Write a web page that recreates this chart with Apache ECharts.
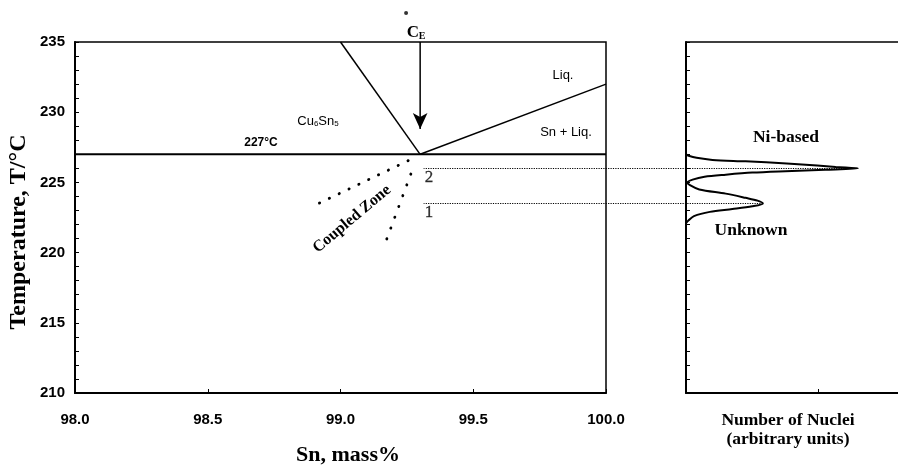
<!DOCTYPE html>
<html>
<head>
<meta charset="utf-8">
<script src="https://cdn.jsdelivr.net/npm/echarts@6/dist/echarts.min.js"></script>
<style>html,body{margin:0;padding:0;background:#fff}#c{width:898px;height:466px}</style>
</head>
<body>
<div id="c"></div>
<script>
// ---- data ----
const snMin = 98.0, snMax = 100.0;
const tMin = 210, tMax = 235;
const xTickLabels = [98.0, 98.5, 99.0, 99.5, 100.0];
const yTickLabels = [210, 215, 220, 225, 230, 235];
const eutecticLine = [[98.0, 227], [100.0, 227]];
const cuLiquidus = [[99.0, 235], [99.3, 227]];
const snLiquidus = [[99.3, 227], [100.0, 232]];
const arrowCE = [[99.3, 235], [99.3, 228.8]];
const ceDot = [[99.247, 237.07]];
const coupledA = [[99.255, 226.55], [98.89, 223.25]];
const coupledB = [[99.265, 225.6], [99.165, 220.5]];
const nucPoints = [[99.3, 226.0], [99.3, 223.5]];
const nucNames = ['2', '1'];
// connectors: [x1, y1, x2, y2] in Sn / T units, running to the nuclei peaks
const links = [[99.31, 226.0, 100.949, 226.0], [99.31, 223.5, 100.591, 223.5]];
const nucleiTemp  = [227.0, 226.9, 226.75, 226.6, 226.5, 226.35, 226.2, 226.1, 226.0, 225.9, 225.8, 225.7, 225.55, 225.4, 225.2, 225.0, 224.8, 224.5, 224.2, 223.9, 223.7, 223.5, 223.3, 223.1, 222.9, 222.6, 222.3, 222.1];
const nucleiCount = [0.0, 0.02, 0.08, 0.2, 0.45, 0.76, 0.99, 1.13, 1.298, 1.05, 0.75, 0.5, 0.3, 0.14, 0.05, 0.01, 0.03, 0.1, 0.3, 0.45, 0.54, 0.58, 0.5, 0.35, 0.18, 0.06, 0.02, 0.0];

// ---- chart ----
const chart = echarts.init(document.getElementById('c'), null, {renderer: 'canvas'});
const tickFont = {fontFamily: '"Liberation Sans", Arial, sans-serif', fontWeight: 'bold', fontSize: 15, color: '#000'};
const blackLine = {color: '#000', width: 1.5};
const nucleiData = nucleiTemp.map((t, i) => [nucleiCount[i], t]);

function seg(data, style, extra) {
  return Object.assign({type: 'line', xAxisIndex: 0, yAxisIndex: 0, data: data, symbol: 'none',
    lineStyle: style, silent: true, animation: false}, extra || {});
}

const option = {
  animation: false,
  grid: [
    {left: 75, top: 42, width: 531, height: 351, show: true, borderColor: '#000', borderWidth: 1.5, backgroundColor: 'transparent'},
    {left: 686, top: 42, width: 212, height: 351, show: false}
  ],
  xAxis: [
    {type: 'value', gridIndex: 0, min: snMin, max: snMax, interval: 0.5,
     axisLine: {lineStyle: {color: '#000', width: 2}},
     axisTick: {inside: true, length: 4, lineStyle: {color: '#000'}},
     axisLabel: Object.assign({margin: 19, formatter: v => xTickLabels.includes(v) ? v.toFixed(1) : ''}, tickFont),
     splitLine: {show: false}},
    {type: 'value', gridIndex: 1, min: 0, max: 1.6, interval: 1,
     axisLine: {lineStyle: {color: '#000', width: 2}},
     axisTick: {inside: true, length: 4, lineStyle: {color: '#000'}},
     axisLabel: {show: false}, splitLine: {show: false}},
    {type: 'value', gridIndex: 1, position: 'top', min: 0, max: 1.6, interval: 1,
     axisLine: {lineStyle: {color: '#000', width: 1.5}},
     axisTick: {show: false}, axisLabel: {show: false}, splitLine: {show: false}}
  ],
  yAxis: [
    {type: 'value', gridIndex: 0, min: tMin, max: tMax, interval: 5,
     axisLine: {lineStyle: {color: '#000', width: 2}},
     axisTick: {inside: true, length: 4, lineStyle: {color: '#000'}},
     minorTick: {show: true, splitNumber: 5, length: 4, lineStyle: {color: '#000'}},
     axisLabel: Object.assign({margin: 10, formatter: v => yTickLabels.includes(v) ? String(v) : ''}, tickFont),
     splitLine: {show: false}},
    {type: 'value', gridIndex: 1, min: tMin, max: tMax, interval: 5,
     axisLine: {lineStyle: {color: '#000', width: 2}},
     axisTick: {inside: true, length: 4, lineStyle: {color: '#000'}},
     minorTick: {show: true, splitNumber: 5, length: 4, lineStyle: {color: '#000'}},
     axisLabel: {show: false}, splitLine: {show: false}}
  ],
  series: [
    seg(eutecticLine, {color: '#000', width: 2}),
    seg(cuLiquidus, blackLine),
    seg(snLiquidus, blackLine),
    seg([arrowCE[0], {value: arrowCE[1], symbol: 'arrow', symbolSize: [11, 16], symbolRotate: 180, itemStyle: {color: '#000'}}],
        blackLine, {showSymbol: true, symbol: 'none'}),
    seg(coupledA, {color: '#000', width: 2.8, type: [0.3, 10.6], cap: 'round'}),
    seg(coupledB, {color: '#000', width: 2.8, type: [0.3, 11.2], cap: 'round'}),
    {type: 'custom', xAxisIndex: 0, yAxisIndex: 0, data: links, clip: false, silent: true, z: 1,
     encode: {x: [0, 2], y: [1, 3]},
     renderItem: function (params, api) {
       const p1 = api.coord([api.value(0), api.value(1)]);
       const p2 = api.coord([api.value(2), api.value(3)]);
       return {type: 'line', shape: {x1: p1[0] + 0.5, y1: Math.round(p1[1]) + 0.5, x2: p2[0], y2: Math.round(p2[1]) + 0.5},
               style: {stroke: '#000', lineWidth: 1, lineDash: [1.2, 1.2]}};
     }},
    {type: 'scatter', xAxisIndex: 0, yAxisIndex: 0, data: ceDot, symbol: 'circle', symbolSize: 4,
     itemStyle: {color: '#000'}, clip: false, silent: true},
    {type: 'scatter', xAxisIndex: 0, yAxisIndex: 0,
     data: nucPoints.map((p, i) => ({value: p, name: nucNames[i]})),
     symbol: 'emptyCircle', symbolSize: 5, itemStyle: {color: '#fff', borderColor: '#000', borderWidth: 1}, z: 5,
     label: {show: true, formatter: p => p.name, position: 'right', distance: 1, offset: [0, 9],
             fontFamily: '"Liberation Serif", "Times New Roman", serif', fontSize: 17, color: '#000',
             textBorderColor: '#000', textBorderWidth: 0.3},
     silent: true},
    {type: 'line', xAxisIndex: 1, yAxisIndex: 1, data: nucleiData, symbol: 'none', smooth: 0.3,
     lineStyle: {color: '#000', width: 2}, silent: true}
  ],
  graphic: [
    {type: 'text', x: 19, y: 232, rotation: Math.PI / 2, style: {text: 'Temperature, T/°C', font: 'bold 24px "Liberation Serif", serif', fill: '#000', align: 'center', verticalAlign: 'middle'}},
    {type: 'text', x: 348, y: 455, style: {text: 'Sn, mass%', font: 'bold 22px "Liberation Serif", serif', fill: '#000', align: 'center', verticalAlign: 'middle'}},
    {type: 'text', x: 788, y: 420, style: {text: 'Number of Nuclei', font: 'bold 17.5px "Liberation Serif", serif', fill: '#000', align: 'center', verticalAlign: 'middle'}},
    {type: 'text', x: 788, y: 439, style: {text: '(arbitrary units)', font: 'bold 17.5px "Liberation Serif", serif', fill: '#000', align: 'center', verticalAlign: 'middle'}},
    {type: 'text', x: 786, y: 137, style: {text: 'Ni-based', font: 'bold 17.5px "Liberation Serif", serif', fill: '#000', align: 'center', verticalAlign: 'middle'}},
    {type: 'text', x: 751, y: 230, style: {text: 'Unknown', font: 'bold 17.5px "Liberation Serif", serif', fill: '#000', align: 'center', verticalAlign: 'middle'}},
    {type: 'text', x: 352, y: 219, rotation: 0.70, style: {text: 'Coupled Zone', font: 'bold 16px "Liberation Serif", serif', fill: '#000', align: 'center', verticalAlign: 'middle'}},
    {type: 'text', x: 261, y: 143, style: {text: '227°C', font: 'bold 12px "Liberation Sans", sans-serif', fill: '#000', align: 'center', verticalAlign: 'middle'}},
    {type: 'text', x: 563, y: 75, style: {text: 'Liq.', font: '13px "Liberation Sans", sans-serif', fill: '#000', align: 'center', verticalAlign: 'middle'}},
    {type: 'text', x: 566, y: 132, style: {text: 'Sn + Liq.', font: '13px "Liberation Sans", sans-serif', fill: '#000', align: 'center', verticalAlign: 'middle'}},
    {type: 'text', x: 318, y: 121, style: {text: 'Cu{s|6}Sn{s|5}', font: '13px "Liberation Sans", sans-serif', fill: '#000', align: 'center', verticalAlign: 'middle',
      rich: {s: {fontSize: 8, fontFamily: '"Liberation Sans", sans-serif', verticalAlign: 'bottom', lineHeight: 13, padding: [4, 0, 0, 0]}}}},
    {type: 'text', x: 413, y: 33, style: {text: 'C', font: 'bold 17px "Liberation Serif", serif', fill: '#000', align: 'center', verticalAlign: 'middle'}},
    {type: 'text', x: 422, y: 36, style: {text: 'E', font: 'bold 10px "Liberation Serif", serif', fill: '#000', align: 'center', verticalAlign: 'middle'}}
  ]
};
chart.setOption(option);
</script>
</body>
</html>
